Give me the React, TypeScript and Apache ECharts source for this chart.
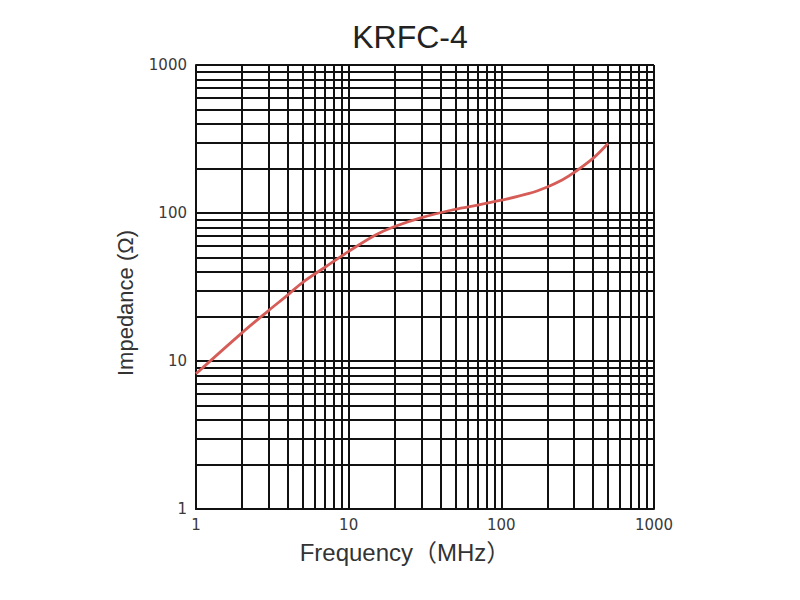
import React, { useEffect, useRef } from 'react';
import * as echarts from 'echarts';

// frequency (MHz) and impedance (ohm)
const freqMHz = [1, 2, 3, 4, 5, 7, 10, 15, 20, 30, 50, 70, 100, 150, 200, 250, 300, 400, 500];
const impedance = [8.2, 15.5, 22, 28, 34, 43, 55, 71, 81, 93, 106, 113, 122, 135, 150, 167, 188, 235, 295];

// log grid lines (same on both axes)
const gridValues = [
  1, 2, 3, 4, 5, 6, 7, 8, 9,
  10, 20, 30, 40, 50, 60, 70, 80, 90,
  100, 200, 300, 400, 500, 600, 700, 800, 900,
  1000,
];

const title = 'KRFC-4';
const xName = 'Frequency（MHz）';
const yName = 'Impedance (Ω)';

const gridColor = '#111';
const curveColor = '#d65c58';
const latinFont = '"Liberation Sans", "Noto Sans CJK KR", sans-serif';

const App: React.FC = () => {
  const chartRef = useRef<HTMLDivElement>(null);

  useEffect(() => {
    if (!chartRef.current) return;
    const chart = echarts.init(chartRef.current, undefined, { renderer: 'svg' });

    const labelStyle = {
      fontFamily: '"DejaVu Sans", sans-serif',
      fontSize: 15,
      color: '#3a3a3a',
      formatter: (v: number) => String(Math.round(v)),
    };

    const option: echarts.EChartsOption = {
      animation: false,
      backgroundColor: '#fff',
      grid: { left: 196, right: 146, top: 65, bottom: 91 },
      xAxis: {
        type: 'log',
        logBase: 10,
        min: 1,
        max: 1000,
        axisLine: { show: true, lineStyle: { color: gridColor, width: 2 } },
        axisTick: { show: false },
        splitLine: { show: false },
        axisLabel: { ...labelStyle, margin: 8 },
      },
      yAxis: {
        type: 'log',
        logBase: 10,
        min: 1,
        max: 1000,
        axisLine: { show: true, lineStyle: { color: gridColor, width: 2 } },
        axisTick: { show: false },
        splitLine: { show: false },
        axisLabel: { ...labelStyle, margin: 9 },
      },
      graphic: [
        {
          type: 'text',
          x: 410,
          y: 37,
          style: {
            text: title,
            font: `32px ${latinFont}`,
            fill: '#222',
            textAlign: 'center',
            textVerticalAlign: 'middle',
          },
        },
        {
          type: 'text',
          x: 405,
          y: 552,
          style: {
            text: xName,
            font: `24px ${latinFont}`,
            fill: '#333',
            textAlign: 'center',
            textVerticalAlign: 'middle',
          },
        },
        {
          type: 'text',
          x: 125,
          y: 303,
          rotation: Math.PI / 2,
          style: {
            text: yName,
            font: `22px ${latinFont}`,
            fill: '#333',
            textAlign: 'center',
            textVerticalAlign: 'middle',
          },
        },
      ],
      series: [
        {
          type: 'line',
          data: [],
          silent: true,
          markLine: {
            silent: true,
            symbol: 'none',
            label: { show: false },
            lineStyle: { color: gridColor, width: 2, type: 'solid' },
            data: [
              ...gridValues.map((v) => ({ xAxis: v })),
              ...gridValues.map((v) => ({ yAxis: v })),
            ],
          },
        },
        {
          type: 'line',
          data: freqMHz.map((f, i) => [f, impedance[i]]),
          smooth: 0.35,
          showSymbol: false,
          z: 5,
          lineStyle: { color: curveColor, width: 2.8 },
        },
      ],
    };

    chart.setOption(option);

    const handleResize = () => chart.resize();
    window.addEventListener('resize', handleResize);
    return () => {
      window.removeEventListener('resize', handleResize);
      chart.dispose();
    };
  }, []);

  return (
    <div
      ref={chartRef}
      style={{ position: 'fixed', left: 0, top: 0, width: '800px', height: '600px' }}
    />
  );
};

export default App;
